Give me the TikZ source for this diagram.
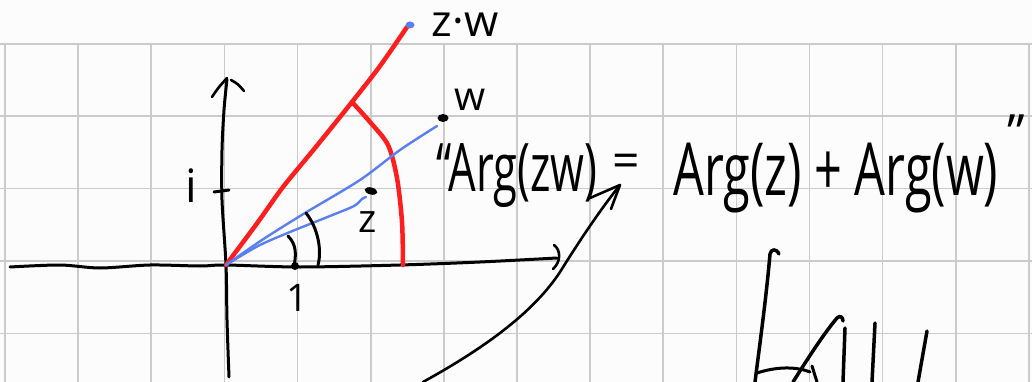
\documentclass[tikz,border=0pt]{standalone}
\usepackage{fontspec}
\setmainfont{Open Sans}
\usepackage{graphicx}
\usetikzlibrary{arrows.meta}
\definecolor{gridc}{HTML}{CBCBCB}
\definecolor{penred}{HTML}{FF1E1E}
\definecolor{penblue}{HTML}{5A7FF0}
\definecolor{paper}{HTML}{FCFCFC}
\begin{document}
\begin{tikzpicture}[x=1pt,y=-1pt,line cap=round,line join=round,
  gridline/.style={gridc,line width=1.6pt},
  ink/.style={black,line width=3pt},
  thinink/.style={black,line width=2.6pt},
  redpen/.style={penred,line width=4.5pt},
  bluepen/.style={penblue,line width=2.4pt},
  lbl/.style={inner sep=0pt,text=black}]
\useasboundingbox (0,0) rectangle (1032,382);
\fill[paper] (0,0) rectangle (1032,382);
% grid
\foreach \k in {0,...,14} \draw[gridline] ({5+73.14*\k},44) -- ({5+73.14*\k},382);
\foreach \yy in {44,116.3,188.6,261,333.3} \draw[gridline] (0,\yy) -- (1032,\yy);
% points
\coordinate (O) at (226,265);
\coordinate (ZW) at (407,27);
\coordinate (W) at (437,126);
\coordinate (Z) at (362,197);
% axes
\draw[ink] plot[smooth,tension=0.5] coordinates {(10,267) (60,265) (100,268) (150,265) (200,266) (226,265) (300,267) (400,265) (480,262) (557,258)};
\draw[thinink] (554,245) .. controls (561,250) and (561,262) .. (553,269);
\draw[ink] plot[smooth] coordinates {(229,377) (227,320) (226,265) (222,200) (222,150) (224,110) (227,79)};
\draw[thinink] (212,97) .. controls (218,88) .. (227,78);
\draw[thinink] (231,80) .. controls (238,84) .. (244,91);
% ticks
\draw[ink] (214,192) -- (229,190);
\fill (295,266) circle (4);
% red
\draw[redpen] plot[smooth] coordinates {(226,265) (258,222) (283,187) (315,148) (352,102) (380,66) (407,27)};
\draw[redpen] plot[smooth] coordinates {(352,102) (370,122) (388,145) (397,178) (402,222) (403,265)};
\fill[penblue] (410,25) ellipse (4.5 and 3.5);
% blue
\draw[bluepen] plot[smooth] coordinates {(226,265) (262,240) (305,213) (360,180) (400,150) (437,126)};
\draw[bluepen] plot[smooth] coordinates {(226,265) (258,246) (290,232) (330,216) (354,206) (362,199) (366,197)};
\fill (443,118) ellipse (5.5 and 4);
\fill[rotate around={-15:(371,191)}] (371,191) ellipse (6.5 and 3.5);
% angle marks
\draw[ink] (288,236) .. controls (297,245) and (296,255) .. (294,267);
\draw[ink] (306,213) .. controls (318,228) and (322,250) .. (318,265);
% labels
\node[lbl,font=\fontsize{44}{44}\selectfont] (zwl) at (465,25) {z·w};
\node[lbl,font=\fontsize{40}{40}\selectfont] (wl) at (470,100) {w};
\node[lbl,font=\fontsize{39}{39}\selectfont] (zl) at (368,222) {z};
\node[lbl,font=\fontsize{46}{46}\selectfont] (il) at (191,186) {i};
\node[lbl,font=\fontsize{38}{38}\selectfont] (onel) at (297,298) {1};
% formula
\node[lbl,anchor=north west] (lhs) at (436,143) {\resizebox*{161pt}{64pt}{“Arg(zw)}};
\node[lbl,font=\fontsize{48}{48}\selectfont] (eq) at (626,166) {=};
\node[lbl,anchor=north west] (rhs) at (673,143) {\resizebox*{325pt}{70pt}{Arg(z) + Arg(w)}};
\node[lbl,anchor=base,font=\fontsize{50}{50}\selectfont] (qr) at (1016,151) {”};
% arrow
\coordinate (As) at (423,382);
\coordinate (Ae) at (620,185);
\draw[thinink] (As) .. controls (490,345) and (535,310) .. (560,272) .. controls (580,240) and (600,210) .. (Ae);
\draw[thinink] (590,198) -- (Ae) -- (611,209);
% scribble
\draw[ink,line width=3.5pt] (779,254) .. controls (776,248) and (771,249) .. (770,254) .. controls (766,300) and (759,350) .. (755,382);
\draw[ink] (757,373) .. controls (775,367) and (795,366) .. (810,372);
\draw[ink,line width=3.5pt] (793,382) .. controls (808,358) and (825,332) .. (837,318) .. controls (840,315) and (843,317) .. (843,321);
\draw[ink] (812,366) -- (817,382);
\draw[ink,line width=3.5pt] (845,328) -- (843,382);
\draw[ink,line width=3.5pt] (875,323) -- (872,382);
\draw[ink,line width=3.5pt] (927,331) -- (918,382);
\end{tikzpicture}
\end{document}
